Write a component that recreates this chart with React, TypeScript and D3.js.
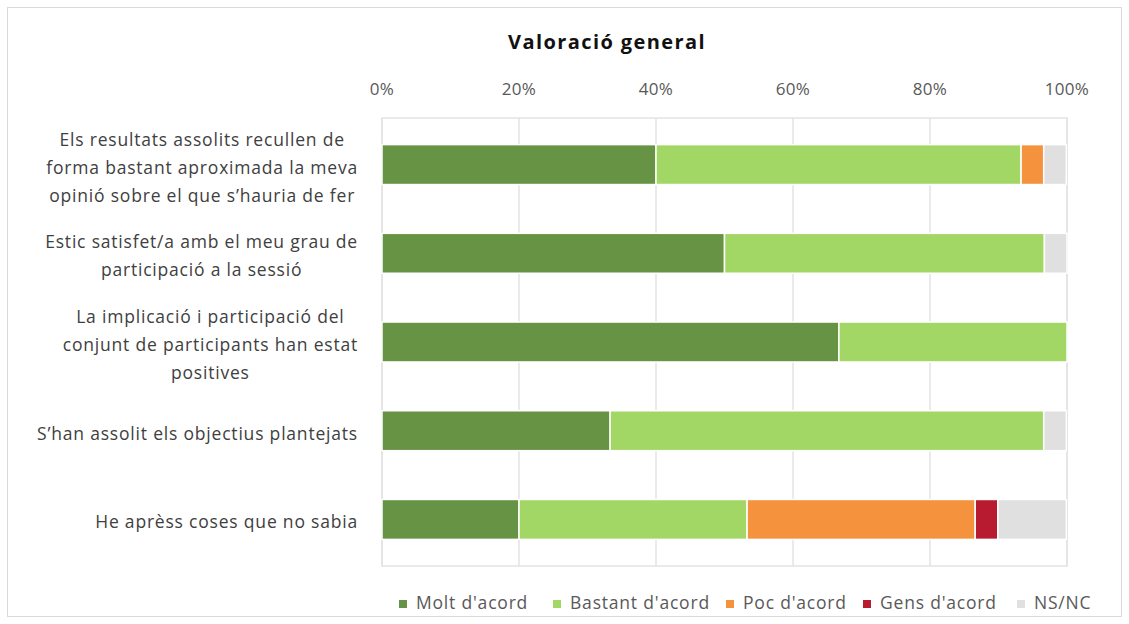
import React, { useRef, useEffect } from "react";
import * as d3 from "d3";

const categories = [
  ["Els resultats assolits recullen de", "forma bastant aproximada la meva", "opinió sobre el que s’hauria de fer"],
  ["Estic satisfet/a amb el meu grau de", "participació a la sessió"],
  ["La implicació i participació del", "conjunt de participants han estat", "positives"],
  ["S’han assolit els objectius plantejats"],
  ["He aprèss coses que no sabia"],
];
const seriesNames = ["Molt d'acord", "Bastant d'acord", "Poc d'acord", "Gens d'acord", "NS/NC"];
const molt = [40, 50, 66.7, 33.3, 20];
const bastant = [53.3, 46.7, 33.3, 63.3, 33.3];
const poc = [3.3, 0, 0, 0, 33.3];
const gens = [0, 0, 0, 0, 3.3];
const nsnc = [3.3, 3.3, 0, 3.3, 10];
const tickValues = [0, 20, 40, 60, 80, 100];
const colors = ["#679344", "#a3d765", "#f4923e", "#b81b2f", "#e0e0e0"];

const W = 1129;
const H = 624;
const FONT = "'Open Sans', sans-serif";

const App = () => {
  const svgRef = useRef<SVGSVGElement>(null);

  useEffect(() => {
    document.body.style.margin = "0";
    const svg = d3.select(svgRef.current);
    svg.selectAll("*").remove();

    const margin = { top: 118, right: 62, bottom: 58, left: 382 };
    const x = d3.scaleLinear().domain([0, 100]).range([margin.left, W - margin.right]);
    const y = d3
      .scaleBand<number>()
      .domain(d3.range(categories.length))
      .range([margin.top, H - margin.bottom])
      .paddingInner(0.55)
      .paddingOuter(0.3);

    // marco del gráfico
    svg.append("rect")
      .attr("x", 7.5).attr("y", 7.5)
      .attr("width", W - 15).attr("height", H - 15)
      .attr("fill", "#fff").attr("stroke", "#d9d9d9");

    svg.append("text")
      .attr("x", 607).attr("y", 49)
      .attr("text-anchor", "middle")
      .style("font-family", FONT).style("font-size", "20px").style("font-weight", "bold")
      .style("letter-spacing", "1.4px")
      .attr("fill", "#111")
      .text("Valoració general");

    // grid
    svg.append("g")
      .selectAll("line")
      .data(tickValues)
      .join("line")
      .attr("x1", d => x(d)).attr("x2", d => x(d))
      .attr("y1", margin.top).attr("y2", H - margin.bottom)
      .attr("stroke", "#e3e3e3").attr("stroke-width", 1.5);
    svg.append("rect")
      .attr("x", x(0)).attr("y", margin.top)
      .attr("width", x(100) - x(0)).attr("height", H - margin.bottom - margin.top)
      .attr("fill", "none").attr("stroke", "#e3e3e3").attr("stroke-width", 1.5);

    // etiquetas del eje superior
    svg.append("g")
      .selectAll("text")
      .data(tickValues)
      .join("text")
      .attr("x", d => x(d)).attr("y", 95)
      .attr("text-anchor", "middle")
      .style("font-family", FONT).style("font-size", "17px")
      .style("letter-spacing", "0.3px")
      .attr("fill", "#595959")
      .text(d => `${d}%`);

    // barras apiladas
    const rows = categories.map((_, i) => ({
      i, v: [molt[i], bastant[i], poc[i], gens[i], nsnc[i]],
    }));
    const keys = [0, 1, 2, 3, 4];
    const stacked = d3.stack<any, number>().keys(keys).value((d, k) => d.v[k])(rows);

    svg.append("g")
      .selectAll("g")
      .data(stacked)
      .join("g")
      .attr("fill", (_, k) => colors[k])
      .selectAll("rect")
      .data(d => d.filter(s => s[1] - s[0] > 0))
      .join("rect")
      .attr("x", s => x(s[0]))
      .attr("y", s => y(s.data.i)!)
      .attr("width", s => x(s[1]) - x(s[0]))
      .attr("height", y.bandwidth())
      .attr("stroke", "#fff").attr("stroke-width", 1.5);

    // etiquetas de categoría: bloque alineado a la derecha, líneas centradas
    const labelRight = 358;
    const lineH = 28;
    categories.forEach((lines, i) => {
      const g = svg.append("g");
      const cy = y(i)! + y.bandwidth() / 2;
      const texts = lines.map((ln, j) =>
        g.append("text")
          .attr("y", cy + (j - (lines.length - 1) / 2) * lineH + 9)
          .attr("text-anchor", "middle")
          .style("font-family", FONT).style("font-size", "17.5px")
          .style("letter-spacing", "0.8px")
          .attr("fill", "#404040")
          .text(ln)
      );
      const maxW = d3.max(texts, t => (t.node() as SVGTextElement).getComputedTextLength()) || 0;
      texts.forEach(t => t.attr("x", labelRight - maxW / 2));
    });

    // leyenda
    const legendX = [399, 553, 726, 863, 1017];
    const lg = svg.append("g")
      .selectAll("g")
      .data(seriesNames)
      .join("g")
      .attr("transform", (_, k) => `translate(${legendX[k]},603)`);
    lg.append("rect")
      .attr("x", 0).attr("y", -3).attr("width", 8).attr("height", 8)
      .attr("fill", (_, k) => colors[k]);
    lg.append("text")
      .attr("x", 17).attr("y", 6)
      .style("font-family", FONT).style("font-size", "17.5px")
      .style("letter-spacing", "0.8px")
      .attr("fill", "#595959")
      .text(d => d);
  }, []);

  return <svg ref={svgRef} width={W} height={H} style={{ display: "block" }} />;
};

export default App;
